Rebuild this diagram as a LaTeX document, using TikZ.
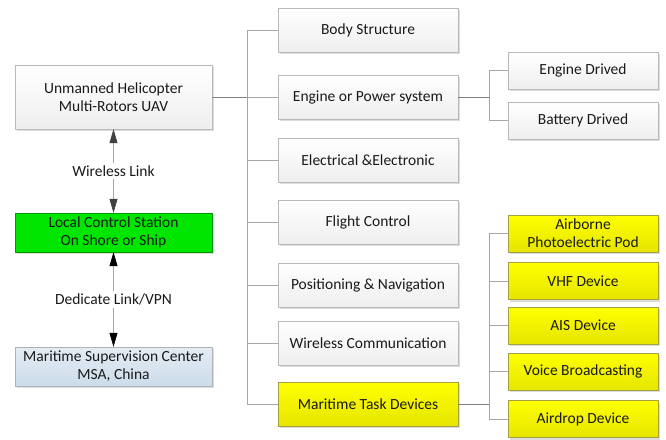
\documentclass[tikz,border=0pt]{standalone}
\usepackage{fontspec}
\setmainfont{Carlito}
\usepackage{xcolor}
\usetikzlibrary{positioning, arrows.meta, shadows}
\definecolor{linegray}{HTML}{A6A6A6}
\definecolor{tipgray}{HTML}{404040}
\definecolor{lcsgreen}{HTML}{00E600}
\definecolor{msctop}{HTML}{E4ECF4}
\definecolor{mscbot}{HTML}{CCDCEA}
\definecolor{txt}{HTML}{1A1A1A}

\begin{document}
\begin{tikzpicture}[
  x=1pt, y=-1pt,
  >={Triangle[length=14pt,width=8pt,color=tipgray]},
  font=\fontsize{15.5}{18}\selectfont,
  every node/.style={inner sep=1pt, text=txt},
  box/.style={draw=gray!55, top color=white, bottom color=gray!13,
    align=center, inner sep=0pt,
    drop shadow={shadow xshift=2pt, shadow yshift=-2pt, fill=gray!45, opacity=.6}},
  leftbox/.style={box, minimum width=197pt},
  midbox/.style={box, minimum width=180pt, minimum height=44pt},
  subbox/.style={box, minimum width=150pt, minimum height=37pt},
  taskbox/.style={top color=yellow, bottom color=yellow!90!black, draw=yellow!60!black},
  link/.style={draw=linegray, line width=0.6pt},
  dlink/.style={link, <->}
]
  \useasboundingbox (0,0) rectangle (666,439);
  % left column
  \node[leftbox, minimum height=64pt] (uav) at (113.5,97) {Unmanned Helicopter\\Multi-Rotors UAV};
  \node[leftbox, minimum height=39pt, top color=lcsgreen, bottom color=lcsgreen, draw=green!60!black] (lcs) at (113.5,232.5) {Local Control Station\\On Shore or Ship};
  \node[leftbox, minimum height=39pt, top color=msctop, bottom color=mscbot, draw=gray!60] (msc) at (113.5,366.5) {Maritime Supervision Center\\MSA, China};
  \draw[dlink] (uav.south) -- node[fill=white, inner sep=3pt] {Wireless Link} (lcs.north);
  \draw[dlink, {Triangle[length=14pt,width=8pt,color=black]}-{Triangle[length=14pt,width=8pt,color=black]}] (lcs.south) -- node[fill=white, inner sep=3pt] {Dedicate Link/VPN} (msc.north);
  % middle column
  \node[midbox] (body) at (368,30) {Body Structure};
  \node[midbox] (engine) at (368,97) {Engine or Power system};
  \node[midbox] (elec) at (368,160) {Electrical \&Electronic};
  \node[midbox] (flight) at (368,222) {Flight Control};
  \node[midbox] (posnav) at (368,285) {Positioning \& Navigation};
  \node[midbox] (wireless) at (368,343) {Wireless Communication};
  \node[midbox, taskbox] (task) at (368,404) {Maritime Task Devices};
  \coordinate (trunkA) at (247,0);
  \draw[link] (body.west) -- (body.west -| trunkA) -- (task.west -| trunkA) -- (task.west);
  \foreach \n in {engine, elec, flight, posnav, wireless}
    \draw[link] (\n.west) -- (\n.west -| trunkA);
  \draw[link, draw=gray] (uav.east) -- (uav.east -| trunkA);
  % engine branch
  \node[subbox] (engdrv) at (583,70.5) {Engine Drived};
  \node[subbox] (batdrv) at (583,120.5) {Battery Drived};
  \coordinate (trunkB) at (489,0);
  \draw[link] (engdrv.west) -- (engdrv.west -| trunkB) -- (batdrv.west -| trunkB) -- (batdrv.west);
  \draw[link, draw=gray] (engine.east) -- (engine.east -| trunkB);
  % task branch
  \node[subbox, taskbox] (pod) at (583,233.5) {Airborne\\Photoelectric Pod};
  \node[subbox, taskbox] (vhf) at (583,281) {VHF Device};
  \node[subbox, taskbox] (ais) at (583,325.5) {AIS Device};
  \node[subbox, taskbox] (voice) at (583,371.5) {Voice Broadcasting};
  \node[subbox, taskbox] (airdrop) at (583,419) {Airdrop Device};
  \draw[link] (pod.west) -- (pod.west -| trunkB) -- (airdrop.west -| trunkB) -- (airdrop.west);
  \foreach \n in {vhf, ais, voice}
    \draw[link] (\n.west) -- (\n.west -| trunkB);
  \draw[link, draw=gray] (task.east) -- (task.east -| trunkB);
\end{tikzpicture}
\end{document}
